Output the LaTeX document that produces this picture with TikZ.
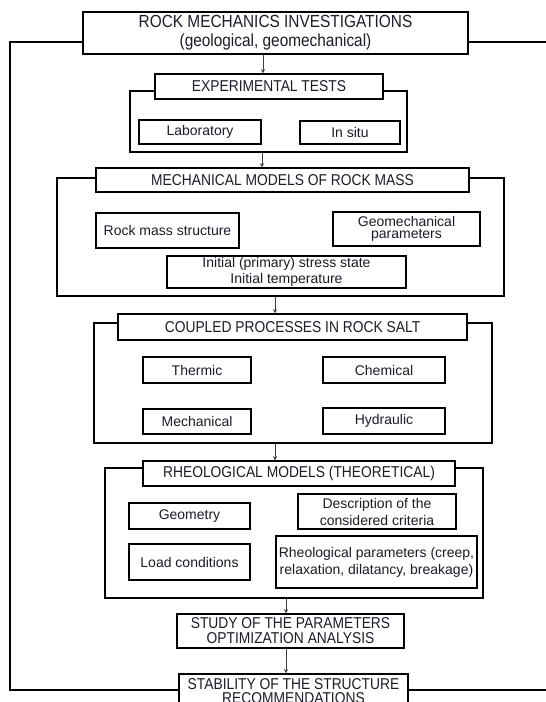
\documentclass[tikz,border=0pt]{standalone}
\usepackage{fontspec}
\setmainfont{Liberation Sans}
\newfontfamily\headfont[FakeStretch=0.88]{Liberation Sans}
\usetikzlibrary{arrows.meta}
\definecolor{txt}{RGB}{28,28,40}
\tikzset{
  box/.style={draw=black, line width=1.5pt, fill=white, inner sep=0pt, align=center,
    text=txt, font=\fontsize{14}{16}\selectfont},
  head/.style={font=\headfont\fontsize{15.7}{16}\selectfont},
  frame/.style={draw=black, line width=1.5pt, inner sep=0pt},
  arr/.style={draw=black!75, line width=0.8pt, -{Stealth[length=4pt,width=4pt]}},
  loop/.style={draw=black, line width=1.8pt},
}
\newcommand{\bx}[6]{\node[box, minimum width=#4pt, minimum height=#5pt, #6] (#1) at (#2,#3)}
\begin{document}
\begin{tikzpicture}[x=1pt,y=-1pt]
\useasboundingbox (0,0) rectangle (546,702);
\clip (0,0) rectangle (546,702);
% container frames
\node[frame, minimum width=277pt, minimum height=61pt] (expc) at (268.5,121.5) {};
\node[frame, minimum width=447pt, minimum height=118pt] (mechc) at (280.5,237) {};
\node[frame, minimum width=398pt, minimum height=120pt] (coupc) at (293,383) {};
\node[frame, minimum width=378pt, minimum height=130pt] (rheoc) at (294,533) {};
% top
\bx{top}{275.5}{33}{385}{42}{font=\headfont\fontsize{17.5}{19}\selectfont}{ROCK MECHANICS INVESTIGATIONS\\(geological, geomechanical)};
% experimental
\bx{exph}{269}{86.5}{228}{25}{head}{EXPERIMENTAL TESTS};
\bx{lab}{200}{132}{122}{24}{}{Laboratory};
\bx{insitu}{350}{132.5}{100}{23}{}{In situ};
% mechanical
\bx{mechh}{282.5}{180}{373}{24}{head}{MECHANICAL MODELS OF ROCK MASS};
\bx{rms}{167.5}{230.5}{143}{35}{}{Rock mass structure};
\bx{geo}{406.5}{229}{147}{34}{font=\fontsize{14}{12.5}\selectfont}{Geomechanical\\parameters};
\bx{init}{286.5}{272}{239}{32}{font=\fontsize{14}{16}\selectfont}{Initial (primary) stress state\\Initial temperature};
% coupled
\bx{couph}{292.5}{327}{349}{26}{head}{COUPLED PROCESSES IN ROCK SALT};
\bx{therm}{197}{370}{108}{26}{}{Thermic};
\bx{chem}{384}{370}{122}{26}{}{Chemical};
\bx{mech}{197}{421.5}{108}{25}{}{Mechanical};
\bx{hyd}{384}{421}{122}{26}{}{Hydraulic};
% rheological
\bx{rheoh}{299}{473.5}{312}{25}{head}{RHEOLOGICAL MODELS (THEORETICAL)};
\bx{geom}{189.5}{516}{121}{26}{}{Geometry};
\bx{desc}{377}{511.5}{158}{35}{font=\fontsize{14}{17}\selectfont}{Description of the\\considered criteria};
\bx{load}{189.5}{562}{121}{36}{}{Load conditions};
\bx{rpar}{376.5}{562}{201}{52}{font=\fontsize{14}{17}\selectfont}{Rheological parameters (creep,\\relaxation, dilatancy, breakage)};
% study and stability
\bx{study}{290.5}{631}{227}{34}{font=\headfont\fontsize{15.7}{15}\selectfont}{STUDY OF THE PARAMETERS\\OPTIMIZATION ANALYSIS};
\bx{stab}{293.5}{691}{229}{34}{font=\headfont\fontsize{15.7}{14.5}\selectfont}{STABILITY OF THE STRUCTURE\\RECOMMENDATIONS};
% arrows
\coordinate (xa) at (263,0);
\coordinate (xb) at (262,0);
\coordinate (xc) at (275,0);
\coordinate (xd) at (286,0);
\draw[arr] (top.south -| xa) -- (exph.north -| xa);
\draw[arr] (expc.south -| xb) -- (mechh.north -| xb);
\draw[arr] (mechc.south -| xc) -- (couph.north -| xc);
\draw[arr] (coupc.south -| xc) -- (rheoh.north -| xc);
\draw[arr] (rheoc.south -| xd) -- (study.north -| xd);
\draw[arr] (study.south -| xd) -- (stab.north -| xd);
% feedback loop
\coordinate (lt) at (10,42);
\coordinate (lb) at (10,690);
\coordinate (rt) at (552,42);
\coordinate (rb) at (552,690);
\draw[loop] (top.west |- lt) -- (lt) -- (lb) -- (stab.west |- lb);
\draw[loop] (top.east |- rt) -- (rt);
\draw[loop] (stab.east |- rb) -- (rb);
\end{tikzpicture}
\end{document}
